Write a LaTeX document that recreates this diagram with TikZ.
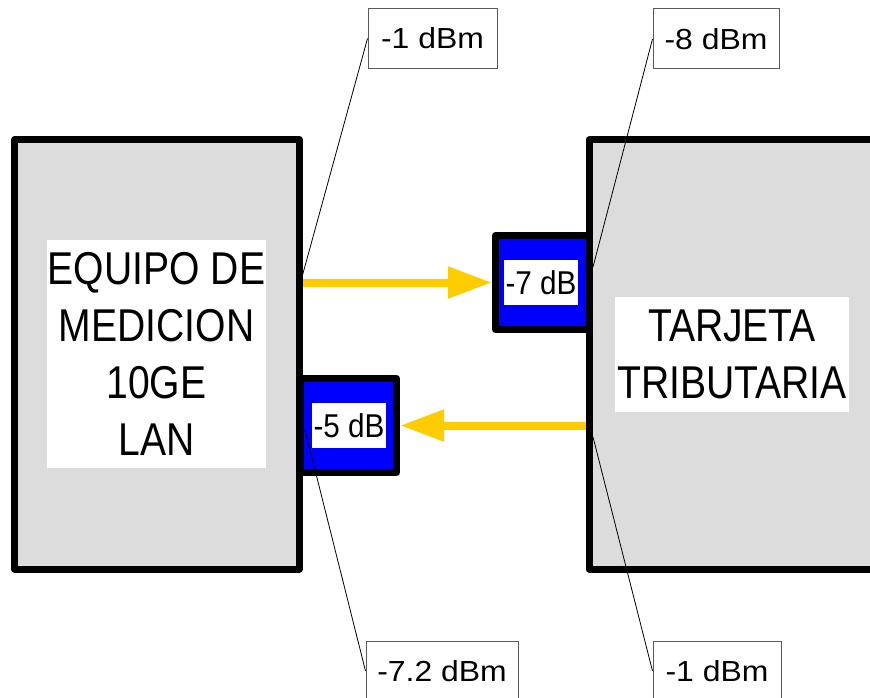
\documentclass[tikz,border=0pt]{standalone}
\usepackage{fontspec}
\setmainfont{Liberation Sans}
\usepackage{graphicx}
\usetikzlibrary{arrows.meta}
\definecolor{boxgray}{RGB}{220,220,220}
\definecolor{flowgold}{RGB}{255,204,0}
\newcommand{\nrw}[2][0.85]{\scalebox{#1}[1]{#2}}

\begin{document}
\begin{tikzpicture}[x=1pt, y=-1pt,
	box/.style={draw, line width=7pt, line join=round, fill=boxgray, inner sep=0pt, minimum height=429pt},
	att/.style={draw, line width=7pt, line join=round, fill=blue, inner sep=0pt, minimum height=94pt},
	txtbox/.style={fill=white, inner sep=0pt, align=center, font=\fontsize{46}{57}\selectfont},
	dbbox/.style={fill=white, inner sep=0pt, minimum width=74pt, minimum height=45pt, font=\fontsize{33}{40}\selectfont},
	tag/.style={draw=black!65, line width=1pt, fill=white, inner sep=0pt, minimum height=60pt, font=\fontsize{29}{35}\selectfont},
	lead/.style={line width=0.8pt},
	flow/.style={flowgold, line width=8pt, -{Triangle[length=44pt, width=30pt]}}]
	\useasboundingbox (0,0) rectangle (870,698);
	\node[box, minimum width=285pt] (equipo) at (157,354.5) {};
	\node[box, minimum width=286pt] (tarjeta) at (732,354.5) {};
	\node[txtbox, minimum width=219pt, minimum height=228pt] (equipoTxt) at (156.5,354) {\nrw{EQUIPO DE}\\\nrw{MEDICION}\\\nrw{10GE}\\\nrw{LAN}};
	\node[txtbox, minimum width=234pt, minimum height=115pt] (tarjetaTxt) at (732,354.5) {\nrw{TARJETA}\\\nrw{TRIBUTARIA}};
	\node[att, minimum width=93.5pt] (att7) at (542.25,282.5) {};
	\node[att, minimum width=96.5pt] (att5) at (348.25,425.5) {};
	\node[dbbox] (att7Txt) at (541,282.5) {\nrw[0.9]{-7 dB}};
	\node[dbbox] (att5Txt) at (349,425.5) {\nrw[0.9]{-5 dB}};
	\draw[flow] (att7.west -| equipo.east) -- (att7.west);
	\draw[flow] (att5.east -| tarjeta.west) -- (att5.east);
	\node[tag, minimum width=129pt] (tagTx) at (432.5,38.5) {\nrw[1.1]{-1 dBm}};
	\node[tag, minimum width=126pt] (tagRx) at (716,39) {\nrw[1.1]{-8 dBm}};
	\node[tag, minimum width=152pt] (tagMeas) at (442,671) {\nrw[1.1]{-7.2 dBm}};
	\node[tag, minimum width=128pt] (tagCard) at (717,671) {\nrw[1.1]{-1 dBm}};
	\coordinate (outEquipo) at (302,277);
	\coordinate (inTarjeta) at (593,267);
	\coordinate (inEquipo) at (305,430);
	\coordinate (outTarjeta) at (593,437);
	\draw[lead] (tagTx.west) -- (outEquipo);
	\draw[lead] (tagRx.west) -- (inTarjeta);
	\draw[lead] (tagMeas.west) -- (inEquipo);
	\draw[lead] (tagCard.west) -- (outTarjeta);
\end{tikzpicture}
\end{document}
